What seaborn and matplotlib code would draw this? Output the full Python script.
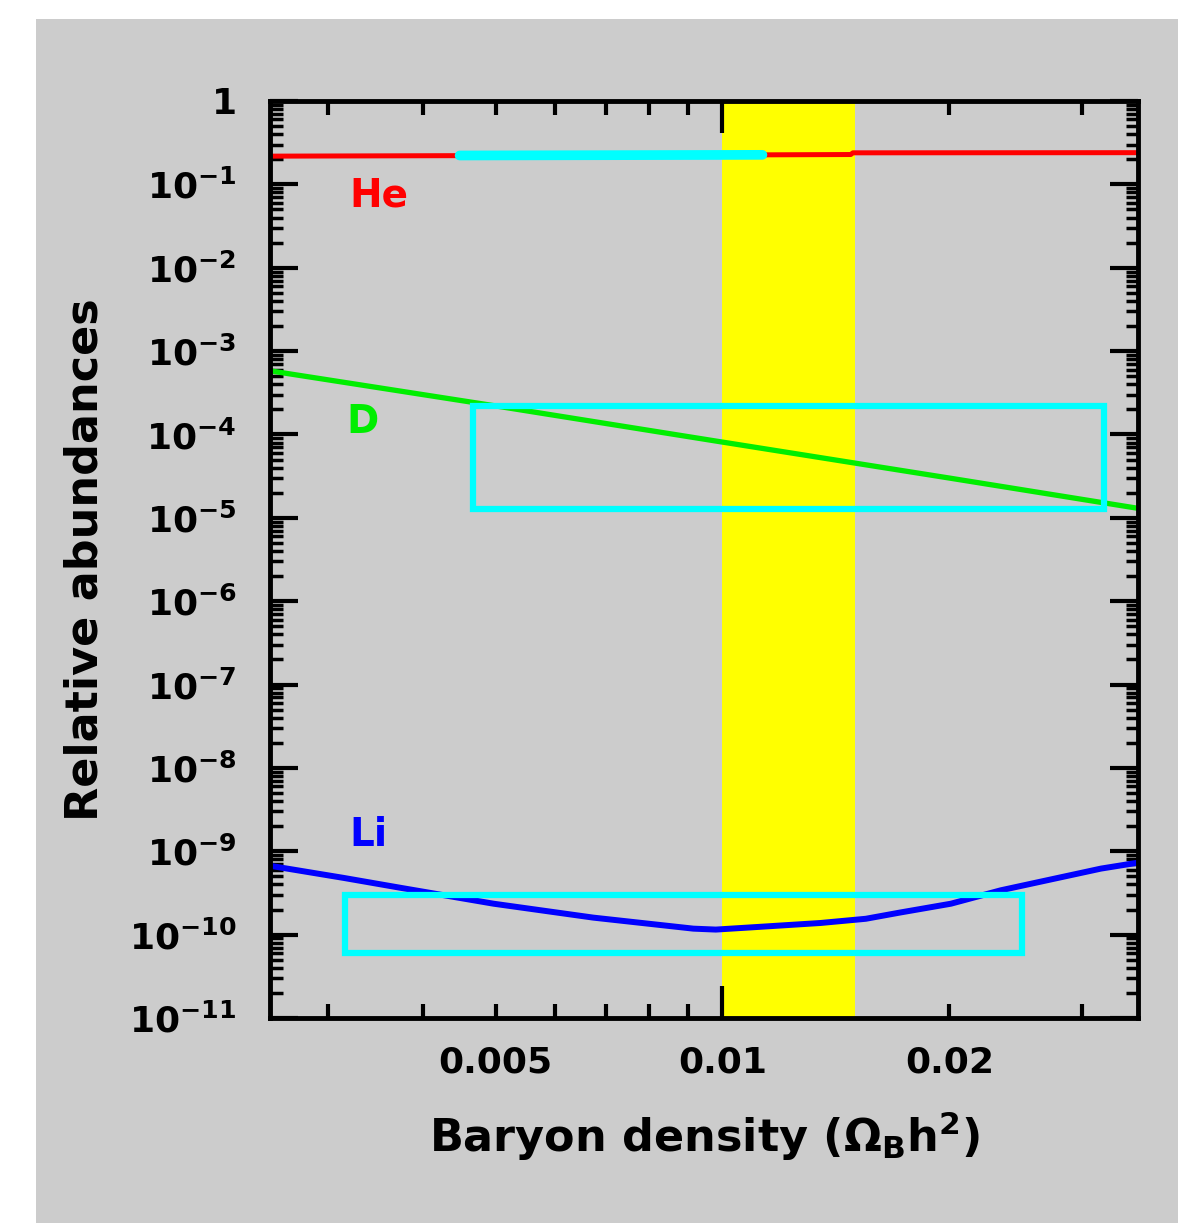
import matplotlib

matplotlib.use("Agg")
import matplotlib.pyplot as plt
import numpy as np
import pandas as pd
import seaborn as sns
from matplotlib.patches import Rectangle
from matplotlib.ticker import LogLocator, NullFormatter

he_x = [0.00251, 0.00448, 0.0113, 0.0148, 0.0149, 0.0356]
he_y = [0.218, 0.221, 0.226, 0.228, 0.239, 0.240]
he_obs_x = [0.00448, 0.0113]
he_obs_y = [0.222, 0.226]

d_x = [0.00251, 0.005, 0.01, 0.02, 0.0356]
d_y = [5.8e-4, 2.2e-4, 8.1e-5, 3.0e-5, 1.3e-5]

li_x = [0.00251, 0.00314, 0.00377, 0.00497, 0.00674, 0.00915, 0.0098,
        0.0112, 0.0135, 0.0155, 0.0172, 0.0201, 0.0234, 0.0273, 0.0318, 0.0356]
li_y = [6.7e-10, 4.8e-10, 3.6e-10, 2.35e-10, 1.6e-10, 1.18e-10, 1.15e-10,
        1.24e-10, 1.38e-10, 1.55e-10, 1.84e-10, 2.35e-10, 3.4e-10, 4.6e-10,
        6.2e-10, 7.3e-10]

d_box = [0.00467, 0.0321, 1.26e-5, 2.18e-4]      # x0, x1, y0, y1
li_box = [0.00316, 0.0250, 6.1e-11, 3.0e-10]
band = [0.010, 0.015]

x_range = [0.00251, 0.0356]
y_range = [1e-11, 1.0]
y_major = [10.0 ** -k for k in range(12)]
y_labels = ["1", r"$10^{-1}$", r"$10^{-2}$", r"$10^{-3}$", r"$10^{-4}$",
            r"$10^{-5}$", r"$10^{-6}$", r"$10^{-7}$", r"$10^{-8}$",
            r"$10^{-9}$", r"$10^{-10}$", r"$10^{-11}$"]
x_major = [0.01]
x_minor = [0.003, 0.004, 0.005, 0.006, 0.007, 0.008, 0.009, 0.02, 0.03]
x_minor_labels = ["", "", "0.005", "", "", "", "", "0.02", ""]

labels = [("He", 0.0035, 0.074, "#ff0000"),
          ("D", 0.00333, 1.4e-4, "#00ee00"),
          ("Li", 0.00339, 1.55e-9, "#0000ff")]

GRAY = "#cccccc"

sns.set_theme(style="ticks")
plt.rcParams["font.family"] = ["DejaVu Sans"]
plt.rcParams["font.weight"] = "bold"
plt.rcParams["mathtext.fontset"] = "dejavusans"
plt.rcParams["mathtext.default"] = "bf"

fig = plt.figure(figsize=(11.78, 12.23), dpi=100, facecolor="white")
fig.patches.append(Rectangle((36 / 1178, 0), 1 - 36 / 1178, 1 - 19 / 1223,
                             transform=fig.transFigure, facecolor=GRAY,
                             edgecolor="none", zorder=-1))
ax = fig.add_axes([270 / 1178, 1 - 1018 / 1223, 868 / 1178, 917 / 1223])
ax.set_facecolor(GRAY)
ax.set_xscale("log")
ax.set_yscale("log")

ax.axvspan(band[0], band[1], color="#ffff00", lw=0, zorder=0.5)

sns.lineplot(x=he_x, y=he_y, color="#ff0000", lw=3.6, ax=ax, zorder=3,
             estimator=None, sort=False)
sns.lineplot(x=he_obs_x, y=he_obs_y, color="#00ffff", lw=7, ax=ax, zorder=4,
             estimator=None, sort=False)
sns.lineplot(x=d_x, y=d_y, color="#00ee00", lw=3.8, ax=ax, zorder=3,
             estimator=None, sort=False)
sns.lineplot(x=li_x, y=li_y, color="#0000ff", lw=4.3, ax=ax, zorder=3,
             estimator=None, sort=False)

for x0, x1, y0, y1 in (d_box, li_box):
    ax.add_patch(Rectangle((x0, y0), x1 - x0, y1 - y0, fill=False,
                           edgecolor="#00ffff", lw=4.5, zorder=5))

for txt, lx, ly, col in labels:
    ax.text(lx, ly, txt, color=col, fontsize=28, fontweight="bold",
            ha="center", va="center", zorder=6)

ax.set_xlim(x_range)
ax.set_ylim(y_range)

ax.set_xticks(x_major, labels=["0.01"])
ax.set_xticks(x_minor, labels=x_minor_labels, minor=True)
ax.set_yticks(y_major, labels=y_labels)
ax.yaxis.set_minor_locator(LogLocator(base=10, subs=np.arange(2, 10), numticks=50))
ax.yaxis.set_minor_formatter(NullFormatter())

ax.tick_params(axis="x", which="both", direction="in", top=True, bottom=True,
               labelsize=26, pad=20, colors="black")
ax.tick_params(axis="x", which="major", length=23, width=3)
ax.tick_params(axis="x", which="minor", length=10, width=3)
ax.tick_params(axis="y", which="both", direction="in", left=True, right=True,
               labelsize=26, pad=24, colors="black")
ax.tick_params(axis="y", which="major", length=20, width=3)
ax.tick_params(axis="y", which="minor", length=9, width=2.5)

for s in ax.spines.values():
    s.set_linewidth(3.5)
    s.set_color("black")
    s.set_zorder(7)

ax.set_xlabel("Baryon density (Ω$_{B}$h$^{2}$)", fontsize=32,
              fontweight="bold", color="black")
ax.set_ylabel("Relative abundances", fontsize=32, fontweight="bold",
              color="black")
ax.xaxis.set_label_coords(0.5, -0.1)
ax.yaxis.set_label_coords(-0.188, 0.5)

fig.savefig("out.png", dpi=100, facecolor="white")
